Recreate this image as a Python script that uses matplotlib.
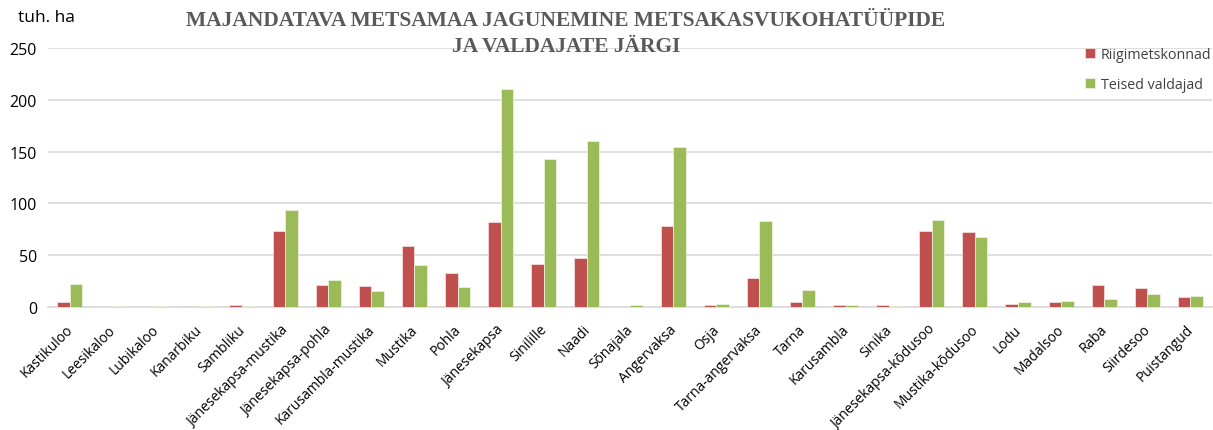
import numpy as np
import matplotlib
matplotlib.use("Agg")
import matplotlib.pyplot as plt
from matplotlib.transforms import ScaledTranslation

# data (tuh. ha)
categories = ["Kastikuloo", "Leesikaloo", "Lubikaloo", "Kanarbiku", "Sambliku",
              "Jänesekapsa-mustika", "Jänesekapsa-pohla", "Karusambla-mustika",
              "Mustika", "Pohla", "Jänesekapsa", "Sinilille", "Naadi", "Sõnajala",
              "Angervaksa", "Osja", "Tarna-angervaksa", "Tarna", "Karusambla",
              "Sinika", "Jänesekapsa-kõdusoo", "Mustika-kõdusoo", "Lodu",
              "Madalsoo", "Raba", "Siirdesoo", "Puistangud"]
riigimetskonnad = [4.5, 0.3, 0.2, 0.5, 2.0, 73.7, 21.5, 20.3, 59.0, 33.0, 82.0,
                   41.5, 47.3, 0.1, 78.5, 1.5, 28.3, 5.0, 2.0, 1.8, 73.0, 72.0,
                   3.2, 5.0, 21.0, 18.3, 9.6]
teised = [22.0, 0.8, 1.2, 0.5, 0.5, 94.0, 26.0, 15.4, 41.0, 19.6, 210.0,
          143.0, 160.0, 1.5, 154.0, 2.9, 83.0, 16.4, 2.0, 0.8, 84.0, 67.6,
          4.5, 5.8, 7.4, 12.5, 10.9]
yticks = [0, 50, 100, 150, 200, 250]

plt.rcParams['font.family'] = ['Open Sans', 'DejaVu Sans']

fig = plt.figure(figsize=(12.13, 4.31), dpi=100)
ax = fig.add_axes([48/1213, 1 - 308/431, (1212 - 48)/1213, (308 - 49)/431])

x = np.arange(len(categories))
w = 0.29
ax.bar(x - w/2, riigimetskonnad, w, color='#C0504D', edgecolor='#F2DCDB',
       linewidth=0.6, label='Riigimetskonnad', zorder=3)
ax.bar(x + w/2, teised, w, color='#9BBB59', edgecolor='#EBF1DE',
       linewidth=0.6, label='Teised valdajad', zorder=3)

ax.set_xlim(-0.5, len(categories) - 0.5)
ax.set_ylim(0, 250)
ax.set_yticks(yticks)
ax.set_yticklabels([str(v) for v in yticks], fontsize=11.5, color='#000000')
ax.set_xticks(x)
ax.set_xticklabels([])
ax.tick_params(axis='both', length=0)
ax.tick_params(axis='y', pad=8)

# rotated category labels, right end just under each bar pair
trans = ax.get_xaxis_transform() + ScaledTranslation(1/100, -20/100, fig.dpi_scale_trans)
for xi, name in zip(x, categories):
    ax.text(xi, 0, name, transform=trans, rotation=45, rotation_mode='anchor',
            ha='right', va='center', fontsize=10)

ax.grid(axis='y', color='#D9D9D9', linewidth=1.2, zorder=0)
for s in ['top', 'right', 'left']:
    ax.spines[s].set_visible(False)
ax.spines['bottom'].set_color('#D9D9D9')
ax.spines['bottom'].set_linewidth(1.2)

fig.text(18/1213, 1 - 18/431, "tuh. ha", fontsize=12.5, va='center', ha='left')
fig.text(566/1213, 1 - 34/431,
         "MAJANDATAVA METSAMAA JAGUNEMINE METSAKASVUKOHATÜÜPIDE\nJA VALDAJATE JÄRGI",
         fontsize=15.5, fontweight='bold', family='Liberation Serif',
         color='#595959', ha='center', va='center', linespacing=1.35)

leg = ax.legend(loc='upper left', bbox_to_anchor=(1072/1213, 1 - 35/431),
                bbox_transform=fig.transFigure, frameon=False, fontsize=10.3,
                handlelength=0.7, handleheight=0.7, handletextpad=0.4,
                labelspacing=1.05, labelcolor='#404040')

plt.savefig('out.png', dpi=100)
